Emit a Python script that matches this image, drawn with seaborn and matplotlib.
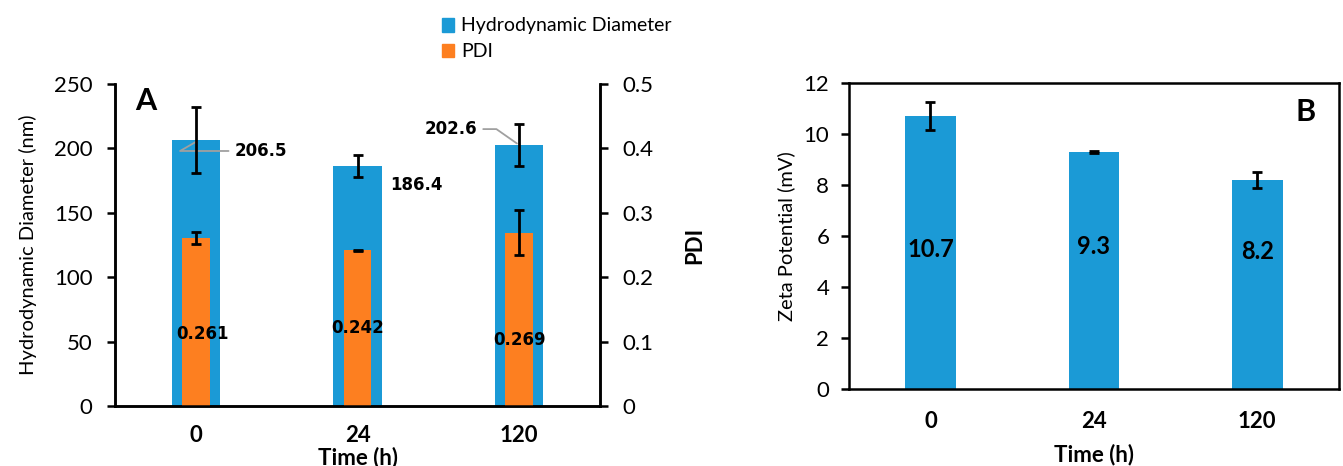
import numpy as np
import matplotlib.pyplot as plt
import seaborn as sns
from matplotlib.ticker import FuncFormatter
from matplotlib.patches import Patch

time_labels = ["0", "24", "120"]
diameter = [206.5, 186.4, 202.6]
diameter_err = [25.5, 8.7, 16.0]
pdi = [0.261, 0.242, 0.269]
pdi_err = [0.009, 0.001, 0.035]
zeta = [10.7, 9.3, 8.2]
zeta_err = [0.55, 0.05, 0.3]

blue = "#1B9AD6"
orange = "#FD7F20"

sns.set_style("ticks")
plt.rcParams['font.family'] = ['Lato', 'DejaVu Sans']
plt.rcParams.update({'axes.linewidth': 1.8, 'text.color': 'black',
                     'axes.labelcolor': 'black', 'xtick.color': 'black',
                     'ytick.color': 'black', 'axes.edgecolor': 'black'})

fig = plt.figure(figsize=(13.43, 4.66), dpi=100)
ax = fig.add_axes([0.0856, 0.1288, 0.3612, 0.6909])
ax2 = ax.twinx()
bx = fig.add_axes([0.632, 0.1652, 0.365, 0.6567])

pos = np.arange(len(time_labels))
err_kw = dict(fmt='none', ecolor='black', elinewidth=2, capsize=3.5, capthick=2, zorder=5)

# ---- panel A
sns.barplot(x=time_labels, y=diameter, color=blue, width=0.30, saturation=1,
            linewidth=0, errorbar=None, ax=ax)
sns.barplot(x=time_labels, y=pdi, color=orange, width=0.17, saturation=1,
            linewidth=0, errorbar=None, ax=ax2)
ax.errorbar(pos, diameter, yerr=diameter_err, **err_kw)
ax2.errorbar(pos, pdi, yerr=pdi_err, **err_kw)

ax.set_xlim(-0.5, 2.5)
ax.set_ylim(0, 250)
ax2.set_ylim(0, 0.5)
ax.set_yticks(np.arange(0, 251, 50))
ax2.set_yticks(np.arange(0, 0.51, 0.1))
ax2.yaxis.set_major_formatter(FuncFormatter(lambda v, p: f"{v:g}"))
ax.spines['top'].set_visible(False)
ax2.spines['top'].set_visible(False)
for a in (ax, ax2):
    a.tick_params(axis='y', direction='out', length=6, width=1.8, labelsize=16, pad=10)
ax.tick_params(axis='x', length=0, labelsize=16, pad=14)
for t in ax.get_xticklabels():
    t.set_fontweight('bold')
ax.set_xlabel("Time (h)", fontsize=16, fontweight='bold', labelpad=0)
ax.set_ylabel("Hydrodynamic Diameter (nm)", fontsize=14.5, labelpad=12)
ax2.set_ylabel("PDI", fontsize=16, fontweight='bold', labelpad=22)
ax2.set_xlabel("")

lab_font = dict(family='DejaVu Sans', fontsize=12, fontweight='bold')
ax.annotate("206.5", xy=(0.02, 206.5), xytext=(0.24, 198), va='center', ha='left',
            arrowprops=dict(arrowstyle='-', color='#a0a0a0', lw=1.3,
                            connectionstyle='angle,angleA=0,angleB=30,rad=0'),
            **lab_font)
ax.text(1.2, 171.6, "186.4", va='center', ha='left', **lab_font)
ax.annotate("202.6", xy=(2.0, 202.6), xytext=(1.74, 215), va='center', ha='right',
            arrowprops=dict(arrowstyle='-', color='#a0a0a0', lw=1.3,
                            connectionstyle='angle,angleA=0,angleB=-35,rad=0'),
            **lab_font)
for x, v, yy, dx in zip(pos, pdi, [0.1118, 0.1211, 0.1025], [0.04, 0.0, 0.0]):
    ax2.text(x + dx, yy, f"{v:.3f}", ha='center', va='center', **lab_font)
ax.text(0.042, 0.99, "A", transform=ax.transAxes, fontsize=22, fontweight='bold',
        ha='left', va='top')

fig.legend(handles=[Patch(color=blue, label="Hydrodynamic Diameter"),
                    Patch(color=orange, label="PDI")],
           loc='upper left', bbox_to_anchor=(0.316, 1.0), frameon=False,
           fontsize=14, handlelength=0.6, handleheight=0.7, handletextpad=0.4,
           labelspacing=0.45)

# ---- panel B
sns.barplot(x=time_labels, y=zeta, color=blue, width=0.31, saturation=1,
            linewidth=0, errorbar=None, ax=bx)
bx.errorbar(pos, zeta, yerr=zeta_err, **err_kw)
bx.set_xlim(-0.5, 2.5)
bx.set_ylim(0, 12)
bx.set_yticks(np.arange(0, 13, 2))
bx.tick_params(axis='y', direction='out', length=6, width=1.8, labelsize=16, pad=8)
bx.tick_params(axis='x', length=0, labelsize=16, pad=16)
for t in bx.get_xticklabels():
    t.set_fontweight('bold')
bx.set_xlabel("Time (h)", fontsize=16, fontweight='bold', labelpad=8)
bx.set_ylabel("Zeta Potential (mV)", fontsize=14.5, labelpad=6)
for x, v, yy in zip(pos, zeta, [5.49, 5.57, 5.41]):
    bx.text(x, yy, f"{v}", ha='center', va='center', fontsize=17, fontweight='bold')
bx.text(0.953, 0.95, "B", transform=bx.transAxes, fontsize=22, fontweight='bold',
        ha='right', va='top')

fig.savefig("out.png", dpi=100)
